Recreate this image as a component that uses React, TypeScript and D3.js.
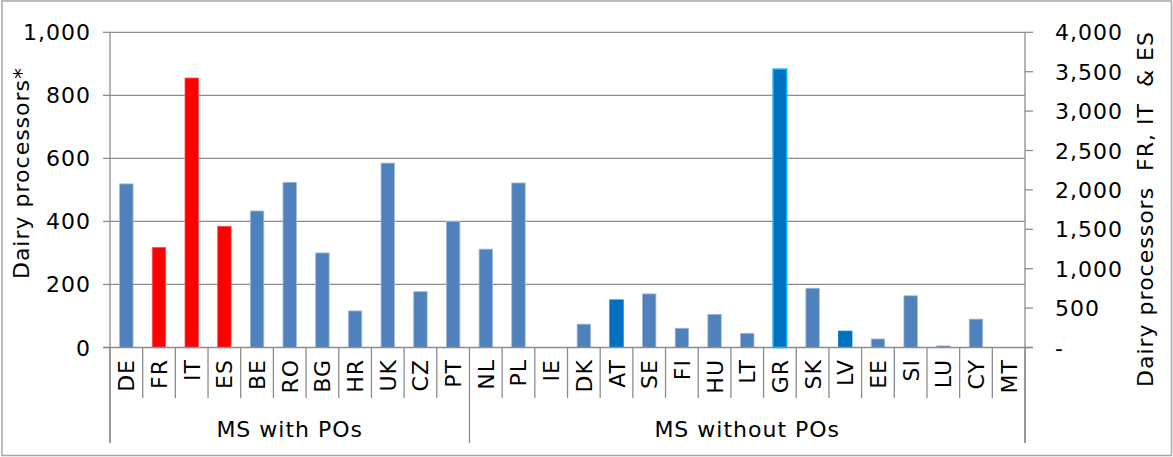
import React from 'react';
import * as d3 from 'd3';

// Member states, grouped by whether they have producer organisations
const withPOs = ['DE', 'FR', 'IT', 'ES', 'BE', 'RO', 'BG', 'HR', 'UK', 'CZ', 'PT'];
const withoutPOs = ['NL', 'PL', 'IE', 'DK', 'AT', 'SE', 'FI', 'HU', 'LT', 'GR', 'SK', 'LV', 'EE', 'SI', 'LU', 'CY', 'MT'];
const groupLabels = ['MS with POs', 'MS without POs'];

// Dairy processors, left axis
const leftValues: Record<string, number> = {
  DE: 519, BE: 433, RO: 524, BG: 300, HR: 116, UK: 585, CZ: 177, PT: 400,
  NL: 312, PL: 522, IE: 0, DK: 74, AT: 151, SE: 170, FI: 61, HU: 105, LT: 45,
  GR: 883, SK: 188, LV: 52, EE: 27, SI: 164, LU: 5, CY: 90, MT: 0,
};
// FR, IT & ES are read on the right axis
const rightValues: Record<string, number> = { FR: 1270, IT: 3420, ES: 1538 };

const darkBlue = ['AT', 'LV', 'GR'];
const highlighted = ['GR'];

const leftTicks = [0, 200, 400, 600, 800, 1000];
const rightTicks = [0, 500, 1000, 1500, 2000, 2500, 3000, 3500, 4000];

const W = 1173;
const H = 457;
const plot = { left: 110, right: 1025, top: 32.3, bottom: 347.5 };
const FONT = '"DejaVu Sans", Verdana, sans-serif';
const FS = 22;
const LS = 1;
const fmt = d3.format(',');

const App: React.FC = () => {
  const cats = [...withPOs, ...withoutPOs];
  const x = d3.scaleBand<string>()
    .domain(cats)
    .range([plot.left, plot.right])
    .paddingInner(0.59)
    .paddingOuter(0.295);
  const step = x.step();
  const yL = d3.scaleLinear().domain([0, 1000]).range([plot.bottom, plot.top]);
  const yR = d3.scaleLinear().domain([0, 4000]).range([plot.bottom, plot.top]);

  const groupBounds = [0, withPOs.length, cats.length];

  return (
    <div style={{ position: 'absolute', left: 0, top: 0 }}>
      <svg width={W} height={H} style={{ display: 'block', background: '#fff' }} fontFamily={FONT} fontSize={FS} letterSpacing={LS}>
        <rect x={2} y={1} width={W - 3.5} height={H - 2.5} fill="#fff" stroke="#a6a6a6" strokeWidth={1.5} />

        {/* gridlines */}
        {leftTicks.filter(t => t > 0).map(t => (
          <line key={'g' + t} x1={plot.left} x2={plot.right} y1={yL(t)} y2={yL(t)} stroke="#8c8c8c" strokeWidth={1.3} />
        ))}

        {/* bars */}
        {cats.map(c => {
          const isRight = c in rightValues;
          const yy = isRight ? yR(rightValues[c]) : yL(leftValues[c]);
          const h = plot.bottom - yy;
          if (h <= 0) return null;
          const fill = isRight ? '#ff0000' : darkBlue.includes(c) ? '#0070c0' : '#4f81bd';
          const stroke = isRight ? '#ff5050' : highlighted.includes(c) ? '#00b0f0' : darkBlue.includes(c) ? '#0070c0' : '#9fb7d8';
          const sw = highlighted.includes(c) ? 1.6 : 0.8;
          return (
            <rect key={c} x={x(c)!} y={yy} width={x.bandwidth()} height={h} fill={fill} stroke={stroke} strokeWidth={sw} />
          );
        })}

        {/* axes lines */}
        <line x1={plot.left} x2={plot.left} y1={plot.top} y2={443} stroke="#8c8c8c" strokeWidth={1.3} />
        <line x1={plot.right} x2={plot.right} y1={plot.top} y2={443} stroke="#8c8c8c" strokeWidth={1.3} />
        <line x1={plot.left - 7} x2={plot.right + 8} y1={plot.bottom} y2={plot.bottom} stroke="#8c8c8c" strokeWidth={1.3} />

        {/* left ticks */}
        {leftTicks.map(t => (
          <g key={'l' + t}>
            <line x1={plot.left - 7} x2={plot.left} y1={yL(t)} y2={yL(t)} stroke="#8c8c8c" strokeWidth={1.3} />
            <text x={91} y={yL(t) + 8} textAnchor="end" fill="#000">{fmt(t)}</text>
          </g>
        ))}

        {/* right ticks */}
        {rightTicks.map(t => (
          <g key={'r' + t}>
            <line x1={plot.right} x2={plot.right + 8} y1={yR(t)} y2={yR(t)} stroke="#8c8c8c" strokeWidth={1.3} />
            <text x={1055} y={yR(t) + 8} textAnchor="start" fill="#000">{t === 0 ? '-' : fmt(t)}</text>
          </g>
        ))}

        {/* category separators */}
        {d3.range(cats.length + 1).map(i => {
          const xx = plot.left + i * step;
          const long = groupBounds.includes(i);
          return <line key={'s' + i} x1={xx} x2={xx} y1={plot.bottom} y2={long ? 443 : 398} stroke="#8c8c8c" strokeWidth={1.3} />;
        })}

        {/* category labels */}
        {cats.map(c => {
          const cx = x(c)! + x.bandwidth() / 2;
          return (
            <text key={'t' + c} transform={`translate(${cx + 8},${359}) rotate(-90)`} textAnchor="end" fill="#000">{c}</text>
          );
        })}

        {/* group labels */}
        {groupLabels.map((g, i) => {
          const x0 = plot.left + groupBounds[i] * step;
          const x1 = plot.left + groupBounds[i + 1] * step;
          return <text key={g} x={(x0 + x1) / 2} y={437} textAnchor="middle" fill="#000">{g}</text>;
        })}

        {/* axis titles */}
        <text transform={`translate(28.5,${173}) rotate(-90)`} textAnchor="middle" fill="#000">Dairy processors*</text>
        <text transform={`translate(1153,${209}) rotate(-90)`} textAnchor="middle" fill="#000" style={{ whiteSpace: 'pre' }}>{'Dairy processors  FR, IT  & ES'}</text>
      </svg>
    </div>
  );
};

export default App;
